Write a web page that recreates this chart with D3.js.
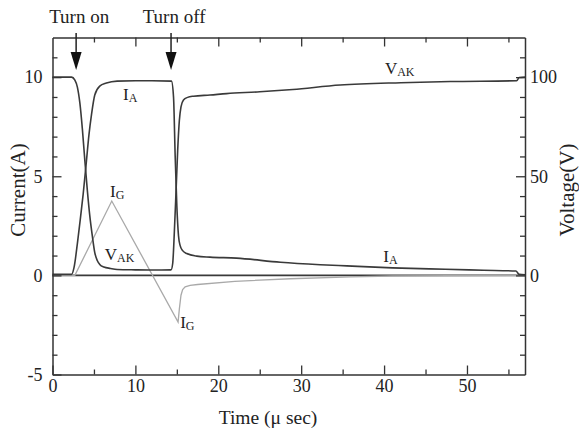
<!DOCTYPE html>
<html>
<head>
<meta charset="utf-8">
<script src="https://cdn.jsdelivr.net/npm/d3@7"></script>
<style>
  body { margin: 0; background: #fff; }
  text { font-family: "Liberation Serif", "Times New Roman", serif; fill: #222; }
</style>
</head>
<body>
<div id="wrapper"></div>
<script>
// anode current I_A (A)
const tA = [0, 2.3, 2.6, 3.0, 3.4, 3.7, 4.1, 4.4, 4.7, 5.1, 5.7, 6.5, 7.8, 10, 12, 14.35, 14.6, 14.8, 15.0, 15.2,
  15.4, 15.7, 16.2, 17.4, 19, 22.2, 27.5, 32.3, 35.5, 41, 47.4, 52, 55.9, 56.3, 57]
const iA = [0.05, 0.05, 0.4, 1.6, 3.0, 4.1, 5.8, 7.1, 8.1, 9.1, 9.55, 9.7, 9.8, 9.82, 9.82, 9.8, 9.0, 6.0, 3.5, 2.0,
  1.5, 1.25, 1.1, 0.97, 0.92, 0.87, 0.66, 0.54, 0.48, 0.38, 0.31, 0.26, 0.22, 0.05, 0.03]

// anode-cathode voltage V_AK (V)
const tV = [0, 2.3, 2.7, 3.0, 3.3, 3.6, 3.9, 4.2, 4.5, 4.8, 5.1, 5.4, 5.7, 6.2, 7.0, 7.8, 10, 12, 14.3, 14.5,
  14.7, 14.9, 15.1, 15.3, 15.5, 15.8, 16.3, 17, 19, 21, 25, 29, 34.7, 42, 48, 56, 56.3, 57]
const vAK = [100, 100, 98.5, 95, 87, 74, 58, 43, 30, 20, 11.5, 7.5, 5.5, 4.2, 3.5, 3.0, 2.8, 2.7, 2.8, 6,
  22, 42, 63, 78, 85, 88.5, 89.8, 90.4, 91, 91.7, 92.6, 93.8, 96, 97.2, 97.8, 98.2, 99.8, 100]

// gate current I_G (A)
const tG = [0, 2.7, 7.15, 15.15, 15.3, 15.5, 15.7, 16.0, 16.6, 17.5, 22, 28.7, 36, 41, 57]
const iG = [0, 0, 3.75, -2.35, -1.7, -1.0, -0.72, -0.58, -0.5, -0.46, -0.3, -0.17, -0.08, -0.03, 0]

// ticks
const xMajor = [0, 10, 20, 30, 40, 50]
const xMinor = [5, 15, 25, 35, 45, 55]
const yMajor = [-5, 0, 5, 10]
const yMinor = [-4, -3, -2, -1, 1, 2, 3, 4, 6, 7, 8, 9, 11]
const vMajor = [0, 50, 100]
const vMinor = [-40, -30, -20, -10, 10, 20, 30, 40, 60, 70, 80, 90, 110]

// annotations (data coordinates)
const arrowTimes = [2.85, 14.3]
const arrowLabels = ["Turn on", "Turn off"]
const curveLabels = [
  {main: "I", sub: "A", t: 8.5, v: 8.85},
  {main: "I", sub: "G", t: 6.95, v: 3.95},
  {main: "V", sub: "AK", t: 6.3, v: 0.8},
  {main: "V", sub: "AK", t: 40.1, v: 10.15},
  {main: "I", sub: "A", t: 39.9, v: 0.7},
  {main: "I", sub: "G", t: 15.4, v: -2.65},
]

function drawChart() {
  let dimensions = {
    width: 579,
    height: 432,
    margin: {top: 37.5, right: 54, bottom: 57.5, left: 52.5},
  }
  dimensions.boundedWidth = dimensions.width - dimensions.margin.left - dimensions.margin.right
  dimensions.boundedHeight = dimensions.height - dimensions.margin.top - dimensions.margin.bottom

  const wrapper = d3.select("#wrapper")
    .append("svg")
      .attr("width", dimensions.width)
      .attr("height", dimensions.height)

  const bounds = wrapper.append("g")
      .attr("transform", `translate(${dimensions.margin.left},${dimensions.margin.top})`)

  // scales
  const xScale = d3.scaleLinear([0, 57], [0, dimensions.boundedWidth])
  const yScale = d3.scaleLinear([-5, 12], [dimensions.boundedHeight, 0])
  const vScale = d3.scaleLinear([-50, 120], [dimensions.boundedHeight, 0])

  const dark = "#3a3a3a"

  // zero line
  bounds.append("line")
      .attr("x1", 0)
      .attr("x2", dimensions.boundedWidth)
      .attr("y1", yScale(0))
      .attr("y2", yScale(0))
      .attr("stroke", dark)
      .attr("stroke-width", 1.6)

  // curves
  const currentLine = d3.line()
      .x(d => xScale(d[0]))
      .y(d => yScale(d[1]))
  const voltLine = d3.line()
      .x(d => xScale(d[0]))
      .y(d => vScale(d[1]))

  bounds.append("path")
      .datum(d3.zip(tG, iG))
      .attr("d", currentLine)
      .attr("fill", "none")
      .attr("stroke", "#a9a9a9")
      .attr("stroke-width", 1.3)

  bounds.append("path")
      .datum(d3.zip(tA, iA))
      .attr("d", currentLine.curve(d3.curveMonotoneX))
      .attr("fill", "none")
      .attr("stroke", dark)
      .attr("stroke-width", 1.6)

  bounds.append("path")
      .datum(d3.zip(tV, vAK))
      .attr("d", voltLine.curve(d3.curveMonotoneX))
      .attr("fill", "none")
      .attr("stroke", dark)
      .attr("stroke-width", 1.6)

  // axes, ticks pointing inward
  const styleAxis = g => {
    g.attr("font-family", null)
    g.select(".domain").attr("stroke", "#333").attr("stroke-width", 1.5)
    g.selectAll(".tick line").attr("stroke", "#333").attr("stroke-width", 1.3)
    g.selectAll(".tick text").attr("font-size", 18).attr("fill", "#222")
  }
  const minor = g => g.select(".domain").remove()

  bounds.append("g")
      .attr("transform", `translate(0,${dimensions.boundedHeight})`)
      .call(d3.axisBottom(xScale).tickValues(xMajor).tickSizeInner(-9).tickSizeOuter(0).tickPadding(5).tickFormat(String))
      .call(styleAxis)
  bounds.append("g")
      .attr("transform", `translate(0,${dimensions.boundedHeight})`)
      .call(d3.axisBottom(xScale).tickValues(xMinor).tickSizeInner(-5).tickFormat(""))
      .call(minor).call(styleAxis)

  bounds.append("g")
      .call(d3.axisTop(xScale).tickValues(xMajor.slice(1)).tickSizeInner(-9).tickSizeOuter(0).tickFormat(""))
      .call(styleAxis)
  bounds.append("g")
      .call(d3.axisTop(xScale).tickValues(xMinor).tickSizeInner(-5).tickFormat(""))
      .call(minor).call(styleAxis)

  bounds.append("g")
      .call(d3.axisLeft(yScale).tickValues(yMajor).tickSizeInner(-9).tickSizeOuter(0).tickPadding(10).tickFormat(String))
      .call(styleAxis)
  bounds.append("g")
      .call(d3.axisLeft(yScale).tickValues(yMinor).tickSizeInner(-5).tickFormat(""))
      .call(minor).call(styleAxis)

  bounds.append("g")
      .attr("transform", `translate(${dimensions.boundedWidth},0)`)
      .call(d3.axisRight(vScale).tickValues(vMajor).tickSizeInner(-9).tickSizeOuter(0).tickPadding(5).tickFormat(String))
      .call(styleAxis)
  bounds.append("g")
      .attr("transform", `translate(${dimensions.boundedWidth},0)`)
      .call(d3.axisRight(vScale).tickValues(vMinor).tickSizeInner(-5).tickFormat(""))
      .call(minor).call(styleAxis)

  // axis titles
  wrapper.append("text")
      .attr("transform", `translate(25,190) rotate(-90)`)
      .attr("text-anchor", "middle")
      .attr("font-size", 21)
      .text("Current(A)")
  wrapper.append("text")
      .attr("transform", `translate(574,190) rotate(-90)`)
      .attr("text-anchor", "middle")
      .attr("font-size", 21)
      .text("Voltage(V)")
  wrapper.append("text")
      .attr("x", 268)
      .attr("y", 424)
      .attr("text-anchor", "middle")
      .attr("font-size", 19.5)
      .text("Time (\u03bc sec)")

  // turn on / turn off arrows
  const arrows = wrapper.append("g")
      .attr("transform", `translate(${dimensions.margin.left},0)`)
    .selectAll("g")
    .data(d3.zip(arrowTimes, arrowLabels))
    .join("g")
      .attr("transform", d => `translate(${xScale(d[0])},0)`)
  arrows.append("line")
      .attr("y1", 33)
      .attr("y2", 54)
      .attr("stroke", "#222")
      .attr("stroke-width", 1.5)
  arrows.append("path")
      .attr("d", "M -5.5,52 L 5.5,52 L 0,70 Z")
      .attr("fill", "#111")
  arrows.append("text")
      .attr("x", 3)
      .attr("y", 23)
      .attr("text-anchor", "middle")
      .attr("font-size", 19)
      .text(d => d[1])

  // curve labels
  const labels = bounds.append("g")
    .selectAll("text")
    .data(curveLabels)
    .join("text")
      .attr("x", d => xScale(d.t))
      .attr("y", d => yScale(d.v))
      .attr("font-size", 17)
      .attr("fill", "#333")
  labels.append("tspan").text(d => d.main)
  labels.append("tspan")
      .attr("font-size", 12)
      .attr("dy", 2)
      .text(d => d.sub)
}

drawChart()
</script>
</body>
</html>
